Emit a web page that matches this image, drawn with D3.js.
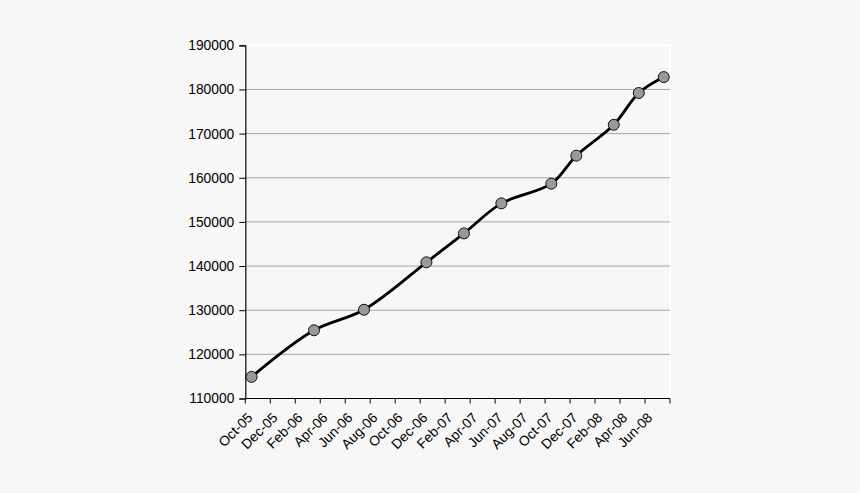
<!DOCTYPE html>
<html>
<head>
<meta charset="utf-8">
<script src="https://cdn.jsdelivr.net/npm/d3@7"></script>
<style>
  html, body { margin: 0; padding: 0; background: #f7f7f7; }
  svg { display: block; }
</style>
</head>
<body>
<div class="container"></div>
<script>
const w = 860;
const h = 493;

// every month on the date axis, Oct-05 .. Jul-08
const months = ['Oct-05', 'Nov-05', 'Dec-05', 'Jan-06', 'Feb-06', 'Mar-06', 'Apr-06', 'May-06', 'Jun-06',
    'Jul-06', 'Aug-06', 'Sep-06', 'Oct-06', 'Nov-06', 'Dec-06', 'Jan-07', 'Feb-07', 'Mar-07', 'Apr-07',
    'May-07', 'Jun-07', 'Jul-07', 'Aug-07', 'Sep-07', 'Oct-07', 'Nov-07', 'Dec-07', 'Jan-08', 'Feb-08',
    'Mar-08', 'Apr-08', 'May-08', 'Jun-08', 'Jul-08'];

// labelled every second month
const tickLabels = ['Oct-05', 'Dec-05', 'Feb-06', 'Apr-06', 'Jun-06', 'Aug-06', 'Oct-06', 'Dec-06', 'Feb-07',
    'Apr-07', 'Jun-07', 'Aug-07', 'Oct-07', 'Dec-07', 'Feb-08', 'Apr-08', 'Jun-08'];

const pointMonths = ['Oct-05', 'Mar-06', 'Jul-06', 'Dec-06', 'Mar-07', 'Jun-07', 'Oct-07', 'Dec-07', 'Mar-08', 'May-08', 'Jul-08'];
const pointValues = [114900, 125450, 130100, 140850, 147400, 154200, 158650, 165000, 172000, 179200, 182800];

const yTicks = [110000, 120000, 130000, 140000, 150000, 160000, 170000, 180000, 190000];

const margin = { top: 45.3, right: 190, bottom: 94.5, left: 245.3 };

const svg = d3.select('.container')
    .append('svg')
    .attr('width', w)
    .attr('height', h)
    .style('font-family', '"Liberation Sans", Arial, sans-serif');

svg.append('rect')
    .attr('width', w)
    .attr('height', h)
    .attr('fill', '#f7f7f7');

const x = d3.scaleBand()
    .domain(months)
    .range([margin.left, w - margin.right])
    .padding(0);

const y = d3.scaleLinear()
    .domain([110000, 190000])
    .range([h - margin.bottom, margin.top]);

// plot frame (light top / right edge)
svg.append('rect')
    .attr('x', margin.left)
    .attr('y', margin.top)
    .attr('width', w - margin.right - margin.left)
    .attr('height', y(110000) - margin.top)
    .attr('fill', 'none')
    .attr('stroke', '#ffffff')
    .attr('stroke-width', 2);

// gridlines
svg.append('g')
    .selectAll('line')
    .data(yTicks.filter(d => d > 110000 && d < 190000))
    .join('line')
    .attr('x1', margin.left)
    .attr('x2', w - margin.right)
    .attr('y1', d => y(d))
    .attr('y2', d => y(d))
    .attr('stroke', '#a6a6a6')
    .attr('stroke-width', 1);

const yAxis = svg.append('g')
    .attr('transform', `translate(${margin.left},0)`)
    .call(d3.axisLeft(y).tickValues(yTicks).tickFormat(d3.format('d')).tickSize(6).tickPadding(5));

yAxis.select('.domain').attr('stroke', '#000').attr('stroke-width', 1.2);
yAxis.selectAll('.tick line').attr('stroke', '#000');
yAxis.selectAll('.tick text')
    .style('font-size', '13.8px')
    .style('font-family', '"Liberation Sans", Arial, sans-serif')
    .attr('fill', '#000');

// x axis
const xg = svg.append('g');
xg.append('line')
    .attr('x1', margin.left)
    .attr('x2', w - margin.right)
    .attr('y1', y(110000))
    .attr('y2', y(110000))
    .attr('stroke', '#000')
    .attr('stroke-width', 1.2);

const tickPos = tickLabels.map(d => x(d)).concat([w - margin.right]);
xg.selectAll('line.tk')
    .data(tickPos)
    .join('line')
    .attr('class', 'tk')
    .attr('x1', d => d)
    .attr('x2', d => d)
    .attr('y1', y(110000))
    .attr('y2', y(110000) + 5)
    .attr('stroke', '#000');

xg.selectAll('text')
    .data(tickLabels)
    .join('text')
    .attr('transform', d => `translate(${x(d) + x.bandwidth() / 2 + 2},${y(110000) + 20}) rotate(-45)`)
    .attr('text-anchor', 'end')
    .style('font-size', '13.8px')
    .attr('fill', '#000')
    .text(d => d);

const pts = pointMonths.map((m, i) => [x(m) + x.bandwidth() / 2, y(pointValues[i])]);

svg.append('path')
    .datum(pts)
    .attr('fill', 'none')
    .attr('stroke', '#000')
    .attr('stroke-width', 2.8)
    .attr('d', d3.line().curve(d3.curveCatmullRom.alpha(0.5)));

svg.append('g')
    .selectAll('circle')
    .data(pts)
    .join('circle')
    .attr('cx', d => d[0])
    .attr('cy', d => d[1])
    .attr('r', 5.5)
    .attr('fill', '#999999')
    .attr('stroke', '#111')
    .attr('stroke-width', 1);
</script>
</body>
</html>
